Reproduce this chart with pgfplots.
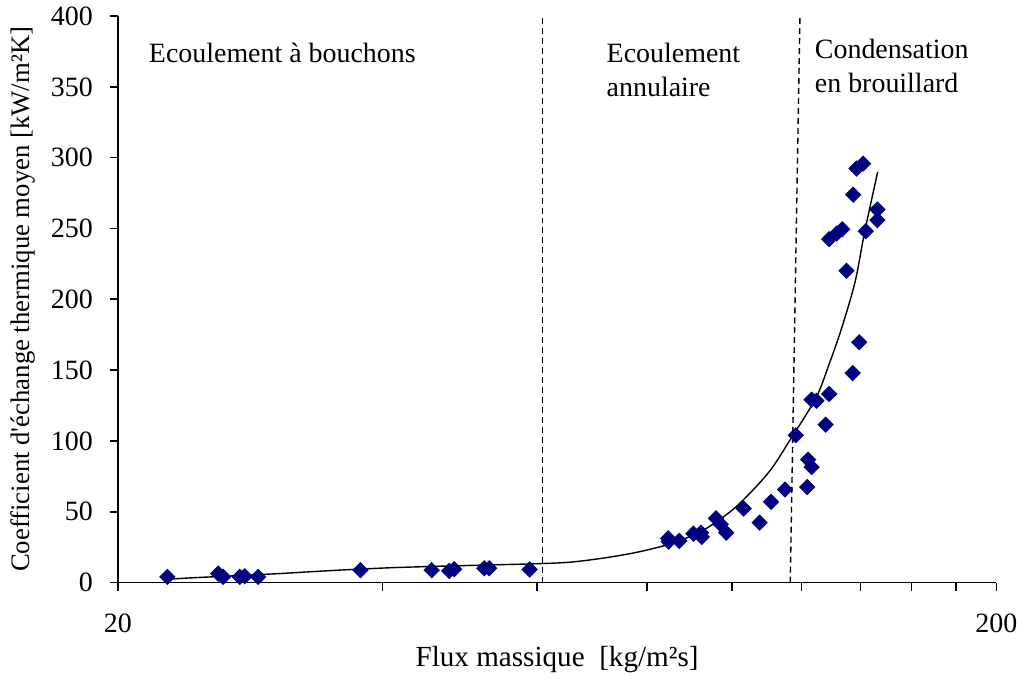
\documentclass[border=0pt]{standalone}
\usepackage{fontspec}
\setmainfont{Liberation Serif}
\newfontfamily\rawserif{Liberation Serif}
\usepackage{pgfplots}
\pgfplotsset{compat=1.18}
\definecolor{navy}{RGB}{0,0,128}
\newcommand{\fs}{\fontsize{14}{17}\selectfont}

\begin{document}
\begin{tikzpicture}
\begin{axis}[
    scale only axis,
    width=440.5pt, height=284pt,
    xmode=log, xmin=20, xmax=200,
    ymin=0, ymax=400,
    axis x line*=bottom, axis y line*=left,
    axis line style={line width=0.8pt},
    xtick={20,40,60,80,100,120,140,160,180,200},
    xticklabels={20,,,,,,,,,200},
    xminorticks=false,
    ytick={0,50,...,400},
    tick align=outside,
    major tick length=4pt,
    tick style={black, line width=0.8pt},
    /pgf/number format/assume math mode=true,
    tick label style={font=\fs},
    xticklabel style={yshift=-8pt},
    yticklabel style={xshift=-5pt},
    xlabel style={font=\fontsize{14.6}{17}\selectfont},
    ylabel style={font=\fontsize{13.4}{16}\selectfont, yshift=1pt},
    xlabel={Flux massique \ [kg/m²s]},
    ylabel={Coefficient d{\rawserif'}échange thermique moyen [kW/m²K]},
    clip=false,
]
% points de mesure
\addplot[only marks, mark=square*, mark size=2.7pt, color=navy,
         mark options={rotate=45}] coordinates {
(22.77,4.0) (26.02,6.3) (26.36,4.0) (27.53,4.0) (27.89,4.4) (28.89,4.0)
(37.77,8.7) (45.52,8.7) (47.66,8.2) (48.29,9.4) (52.24,10.1) (52.93,10.1)
(58.85,9.2)
(84.6,31.2) (84.7,28.9) (87.1,29.4) (90.4,34.5) (92.2,35.2) (92.4,32.2)
(95.9,45.3) (97.1,41.1) (98.5,35.2) (103.1,52.3) (107.5,42.3) (110.8,57.0)
(114.9,65.7) (118.2,104.0) (121.8,67.4) (122.1,86.8) (123.2,81.5)
(127.8,111.5) (129.0,133.1) (123.2,129.1) (124.8,128.4)
(129.0,242.5) (131.6,246.5) (133.5,249.5) (135.0,220.2) (137.2,147.9)
(137.4,273.9) (138.6,292.3) (139.6,169.7) (141.0,295.8) (142.0,248.1)
(146.4,263.4) (146.4,255.9)
};
% courbe de tendance
\addplot[black, line width=0.7pt, smooth] coordinates {
(22.9,2.4) (24.4,3.4) (26.4,4.4) (30.3,6.2) (33.1,7.6) (36.4,9.0)
(41.5,10.6) (49.8,12.0) (59.3,13.2) (65.2,14.3) (71.1,17.1) (77.6,21.1)
(84.7,27.0) (92.4,36.4) (100.8,52.8) (110.0,77.5) (116.2,99.8)
(124.6,130.3) (128.9,153.7) (133.3,179.6) (138.1,212.5) (141.6,247.7)
(146.5,289.9)
};
% limites des regimes
\addplot[black, line width=0.7pt, dash pattern=on 3pt off 2pt] coordinates {(60.9,0) (60.9,400)};
\addplot[black, line width=0.7pt, dash pattern=on 3pt off 2pt] coordinates {(116.5,0) (119.5,400)};

\node[anchor=north west, font=\fs, inner sep=0pt] at (rel axis cs:0.035,0.953) {Ecoulement à bouchons};
\node[anchor=north west, font=\fs, align=left, inner sep=0pt] at (rel axis cs:0.556,0.953) {Ecoulement\\annulaire};
\node[anchor=north west, font=\fs, align=left, inner sep=0pt] at (rel axis cs:0.793,0.96) {Condensation\\en brouillard};
\end{axis}
\path ([xshift=-2pt]current bounding box.west);
\end{tikzpicture}
\end{document}
